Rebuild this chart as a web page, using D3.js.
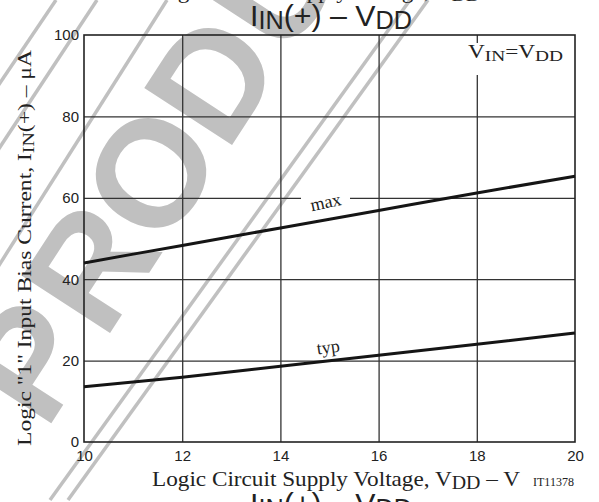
<!DOCTYPE html>
<html><head><meta charset="utf-8">
<script src="https://cdn.jsdelivr.net/npm/d3@7"></script>
<style>body{margin:0;background:#fff;overflow:hidden}</style>
</head><body>
<script>
// ---- data ----
const vdd = [10, 12, 14, 16, 18, 20];
const maxVals = [44.0, 48.3, 52.6, 56.9, 61.2, 65.3];
const typVals = [13.6, 15.9, 18.6, 21.3, 24.0, 26.8];
const xTicks = [10, 12, 14, 16, 18, 20];
const yTicks = [0, 20, 40, 60, 80, 100];
const seriesNames = ["max", "typ"];
const watermarkLetters = ["P", "R", "O", "D", "U", "C", "T"];

const W = 599, H = 502;
const svg = d3.select("body").append("svg").attr("width", W).attr("height", H);
const serif = "'Liberation Serif','Times New Roman',serif";
const sans = "'Liberation Sans',Arial,Helvetica,sans-serif";

// ---- watermark ----
const wm = svg.append("g").attr("fill", "#c0c0c0").attr("stroke", "#c0c0c0");
const lines = [
  [[50, 500], [410, 0]], [[68, 500], [428, 0]],
  [[-99, 420], [167, 0]],
  [[-68, 250], [97, 0]],
  [[-113, 250], [56, 0]]
];
wm.selectAll("line").data(lines).join("line")
  .attr("x1", d => d[0][0]).attr("y1", d => d[0][1])
  .attr("x2", d => d[1][0]).attr("y2", d => d[1][1])
  .attr("stroke-width", 3.5).attr("fill", "none");
const wg = wm.append("g").attr("transform", "translate(150,172) rotate(-57)").attr("stroke", "none");
wg.selectAll("text").data(watermarkLetters).join("text")
  .attr("x", (d, i) => (i - 2) * 112).attr("y", 54)
  .attr("text-anchor", "middle")
  .attr("font-family", sans).attr("font-weight", "bold").attr("font-size", 152)
  .text(d => d);

// ---- scales ----
const m = {l: 84, r: 575, t: 35, b: 442};
const x = d3.scaleLinear().domain([10, 20]).range([m.l, m.r]);
const y = d3.scaleLinear().domain([0, 100]).range([m.b, m.t]);

// ---- grid ----
const grid = svg.append("g");
grid.append("g").attr("transform", `translate(0,${m.b})`)
  .call(d3.axisBottom(x).tickValues(xTicks.slice(1, -1)).tickSize(-(m.b - m.t)).tickFormat(""))
  .call(g => g.select(".domain").remove())
  .call(g => g.selectAll("line").attr("stroke", "#333").attr("stroke-width", 1.3));
grid.append("g").attr("transform", `translate(${m.l},0)`)
  .call(d3.axisLeft(y).tickValues(yTicks.slice(1, -1)).tickSize(-(m.r - m.l)).tickFormat(""))
  .call(g => g.select(".domain").remove())
  .call(g => g.selectAll("line").attr("stroke", "#333").attr("stroke-width", 1.3));

// white boxes behind labels
svg.append("rect").attr("x", 462).attr("y", 43).attr("width", 108).attr("height", 32).attr("fill", "#fff");
svg.append("rect").attr("x", 301).attr("y", 188).attr("width", 49).attr("height", 24).attr("fill", "#fff");

// frame
svg.append("rect").attr("x", m.l).attr("y", m.t).attr("width", m.r - m.l).attr("height", m.b - m.t)
  .attr("fill", "none").attr("stroke", "#222").attr("stroke-width", 1.6);

// ---- axes labels ----
const xa = svg.append("g").attr("transform", `translate(0,${m.b})`)
  .call(d3.axisBottom(x).tickValues(xTicks).tickSize(0).tickPadding(8).tickFormat(d3.format("d")));
xa.select(".domain").remove();
xa.selectAll("text").attr("font-family", sans).attr("font-size", 15).attr("fill", "#222");
const ya = svg.append("g").attr("transform", `translate(${m.l},0)`)
  .call(d3.axisLeft(y).tickValues(yTicks).tickSize(0).tickPadding(5).tickFormat(d3.format("d")));
ya.select(".domain").remove();
ya.selectAll("text").attr("font-family", sans).attr("font-size", 15).attr("fill", "#222");

// ---- curves ----
const line = d3.line().x((d, i) => x(vdd[i])).y(d => y(d)).curve(d3.curveMonotoneX);
[maxVals, typVals].forEach(vals => {
  svg.append("path").attr("d", line(vals)).attr("fill", "none")
    .attr("stroke", "#151515").attr("stroke-width", 3);
});

// series labels
svg.append("text").attr("transform", "translate(327,208) rotate(-12)")
  .attr("text-anchor", "middle").attr("font-family", serif).attr("font-size", 18).attr("fill", "#222")
  .text(seriesNames[0]);
svg.append("text").attr("transform", "translate(329,353) rotate(-8)")
  .attr("text-anchor", "middle").attr("font-family", serif).attr("font-size", 18).attr("fill", "#222")
  .text(seriesNames[1]);

// condition label
const vin = svg.append("text").attr("x", 468).attr("y", 58).attr("font-family", serif)
  .attr("font-size", 18).attr("fill", "#222").attr("textLength", 95).attr("lengthAdjust", "spacingAndGlyphs");
vin.append("tspan").text("V");
vin.append("tspan").attr("font-size", 15).attr("dy", 3).text("IN");
vin.append("tspan").attr("dy", -3).text("=V");
vin.append("tspan").attr("font-size", 15).attr("dy", 3).text("DD");

// y title
const yt = svg.append("text").attr("transform", "translate(31,248) rotate(-90)")
  .attr("text-anchor", "middle").attr("font-family", serif).attr("font-size", 19).attr("fill", "#222")
  .attr("textLength", 396).attr("lengthAdjust", "spacingAndGlyphs");
yt.append("tspan").text("Logic \"1\" Input Bias Current, I");
yt.append("tspan").attr("font-size", 16).attr("dy", 3).text("IN");
yt.append("tspan").attr("dy", -3).text("(+)  \u2013  \u03bcA");

// x title
function xTitle(by) {
  const t = svg.append("text").attr("x", 152).attr("y", by).attr("font-family", serif)
    .attr("font-size", 21).attr("fill", "#222").attr("textLength", 368).attr("lengthAdjust", "spacingAndGlyphs");
  t.append("tspan").text("Logic Circuit Supply Voltage, V");
  t.append("tspan").attr("font-size", 18).attr("dy", 3).text("DD");
  t.append("tspan").attr("dy", -3).text("  \u2013  V");
  svg.append("text").attr("x", 533).attr("y", by).attr("font-family", serif)
    .attr("font-size", 12).attr("fill", "#222").text("IT11378");
}
xTitle(486);
xTitle(-2);

// chart title
function title(by) {
  const t = svg.append("text").attr("x", 250).attr("y", by).attr("font-family", sans)
    .attr("font-size", 30).attr("fill", "#222").attr("textLength", 162).attr("lengthAdjust", "spacingAndGlyphs");
  t.append("tspan").text("I");
  t.append("tspan").attr("font-size", 25).attr("dy", 3).text("IN");
  t.append("tspan").attr("dy", -3).text("(+) \u2013 V");
  t.append("tspan").attr("font-size", 25).attr("dy", 3).text("DD");
}
title(26);
title(514);
</script>
</body></html>
